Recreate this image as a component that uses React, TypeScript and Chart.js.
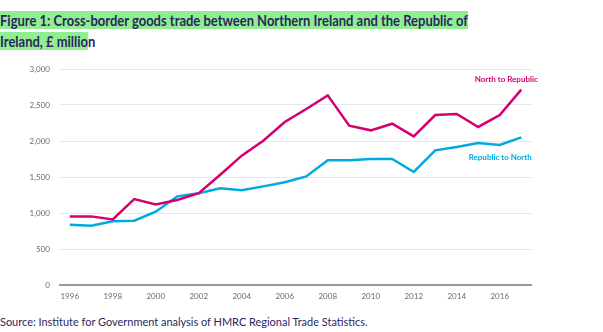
import React, { useEffect, useRef } from "react";
import { Chart, registerables } from "chart.js";

Chart.register(...registerables);

const years = [
  "1996", "1997", "1998", "1999", "2000", "2001", "2002", "2003", "2004", "2005", "2006",
  "2007", "2008", "2009", "2010", "2011", "2012", "2013", "2014", "2015", "2016", "2017",
];
const northToRepublic = [
  953, 953, 910, 1194, 1120, 1180, 1275, 1532, 1796, 2004, 2264,
  2444, 2634, 2213, 2148, 2240, 2064, 2361, 2375, 2195, 2361, 2713,
];
const republicToNorth = [
  837, 823, 884, 893, 1018, 1231, 1275, 1342, 1315, 1370, 1426,
  1508, 1731, 1731, 1750, 1750, 1570, 1870, 1917, 1972, 1945, 2051,
];
const seriesNames = ["North to Republic", "Republic to North"];
const yTicks = [0, 500, 1000, 1500, 2000, 2500, 3000];

const PINK = "#d4006e";
const BLUE = "#00a9e0";
const NAVY = "#2b2760";
const FONT = "Lato, 'Open Sans', sans-serif";

const labelPlugin = {
  id: "endLabels",
  afterDatasetsDraw(chart: any) {
    const { ctx, scales } = chart;
    const last = years.length - 1;
    const xs = scales.x.getPixelForValue(last);
    const yPink = scales.y.getPixelForValue(northToRepublic[last]);
    const yBlue = scales.y.getPixelForValue(republicToNorth[last]);
    ctx.save();
    ctx.font = `bold 8px ${FONT}`;
    ctx.textAlign = "center";
    ctx.textBaseline = "middle";
    ctx.fillStyle = PINK;
    ctx.fillText(seriesNames[0], xs - 15, yPink - 10);
    ctx.fillStyle = BLUE;
    ctx.fillText(seriesNames[1], xs - 21, yBlue + 20);
    ctx.restore();
  },
};

export default function App() {
  const ref = useRef<HTMLCanvasElement | null>(null);

  useEffect(() => {
    document.body.style.margin = "0";
    const chart = new Chart(ref.current as HTMLCanvasElement, {
      type: "line",
      data: {
        labels: years,
        datasets: [
          {
            label: seriesNames[0],
            data: northToRepublic,
            borderColor: PINK,
            backgroundColor: PINK,
            borderWidth: 2.5,
            pointRadius: 0,
            tension: 0,
          },
          {
            label: seriesNames[1],
            data: republicToNorth,
            borderColor: BLUE,
            backgroundColor: BLUE,
            borderWidth: 2.5,
            pointRadius: 0,
            tension: 0,
          },
        ],
      },
      options: {
        animation: false,
        responsive: false,
        layout: { padding: { top: 9, right: 71, left: 0, bottom: 0 } },
        plugins: { legend: { display: false }, tooltip: { enabled: false }, title: { display: false } },
        scales: {
          x: {
            type: "category",
            offset: true,
            grid: { display: false, drawTicks: false },
            border: { display: false },
            ticks: {
              autoSkip: false,
              maxRotation: 0,
              padding: 7,
              color: "#6b6b6b",
              font: { family: FONT, size: 8 },
              callback: (_v: any, i: number) => (i % 2 === 0 ? years[i] : ""),
            },
            afterFit: (s: any) => {
              s.height = 25;
              s.paddingLeft = 0;
              s.paddingRight = 0;
            },
          },
          y: {
            min: 0,
            max: 3000,
            afterBuildTicks: (s: any) => {
              s.ticks = yTicks.map((v) => ({ value: v }));
            },
            border: { display: false },
            grid: {
              drawTicks: false,
              color: (c: any) => (c.tick && c.tick.value === 0 ? "#9a9a9a" : "#e4e8ee"),
              lineWidth: (c: any) => (c.tick && c.tick.value === 0 ? 2 : 1),
            },
            ticks: {
              padding: 9,
              color: "#6b6b6b",
              font: { family: FONT, size: 8 },
              callback: (v: any) => Number(v).toLocaleString("en-GB"),
            },
            afterFit: (s: any) => {
              s.width = 59;
              s.paddingTop = 0;
              s.paddingBottom = 0;
            },
          },
        },
      },
      plugins: [labelPlugin],
    });
    return () => chart.destroy();
  }, []);

  return (
    <div style={{ position: "relative", width: 603, height: 332, background: "#fff", fontFamily: FONT, overflow: "hidden" }}>
      <div
        style={{
          position: "absolute",
          left: 0,
          top: 10,
          fontSize: 15,
          fontWeight: 700,
          lineHeight: "21px",
          color: NAVY,
          whiteSpace: "nowrap",
          transform: "scaleX(0.865)",
          transformOrigin: "0 0",
        }}
      >
        <span style={{ background: "#90ee90" }}>
          Figure 1: Cross-border goods trade between Northern Ireland and the Republic of
        </span>
        <br />
        <span style={{ background: "#90ee90" }}>Ireland, £ millio</span>n
      </div>
      <canvas ref={ref} width={603} height={250} style={{ position: "absolute", left: 0, top: 60, width: 603, height: 250 }} />
      <div
        style={{
          position: "absolute",
          left: 0,
          top: 314,
          fontSize: 12,
          color: NAVY,
          whiteSpace: "nowrap",
          lineHeight: "16px",
          transform: "scaleX(0.913)",
          transformOrigin: "0 0",
        }}
      >
        Source: Institute for Government analysis of HMRC Regional Trade Statistics.
      </div>
    </div>
  );
}
